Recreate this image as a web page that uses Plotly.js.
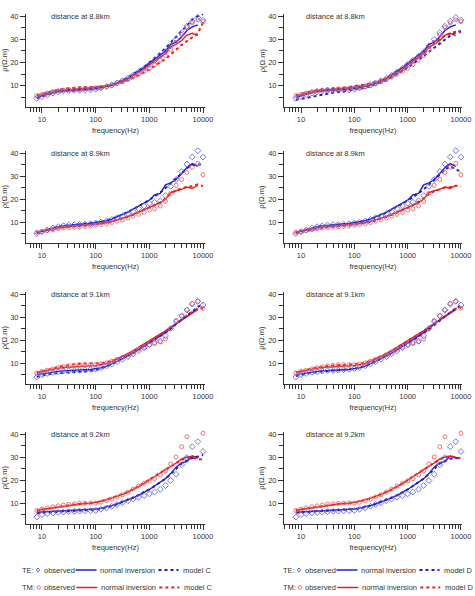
<!DOCTYPE html>
<html>
<head>
<meta charset="utf-8">
<script src="https://cdn.plot.ly/plotly-3.0.1.min.js"></script>
<style>
  html, body { margin: 0; padding: 0; background: #ffffff; }
  #chart { width: 475px; height: 596px; }
</style>
</head>
<body>
<div id="chart"></div>
<script>
// Apparent resistivity sounding curves, TE and TM modes, four distances.
const freq = [8, 10, 12.5, 16, 20, 25, 31.5, 40, 50, 63, 80, 100, 125, 160, 200, 250, 315, 400,
              500, 630, 800, 1000, 1250, 1600, 2000, 2500, 3150, 4000, 5000, 6300, 8000, 10000];
// inversion curves stop at 8 kHz
const freqInv = freq.slice(0, 31);

const distances = ['8.8', '8.9', '9.1', '9.2'];

// ---- 8.8 km ----
const teObs88 = [4.6,5.4,6.2,6.9,7.4,7.8,8.0,8.1,8.1,8.1,8.2,8.6,9.1,9.7,10.4,11.3,12.2,13.3,14.6,16.0,17.5,19.2,20.9,22.8,24.6,27.2,30.0,32.8,35.6,37.8,39.4,38.2];
const tmObs88 = [5.8,6.3,6.9,7.5,7.9,8.2,8.4,8.6,8.7,8.8,8.9,9.1,9.3,9.7,10.2,10.9,11.7,12.7,13.8,15.0,16.2,17.5,19.1,21.0,23.0,25.6,28.7,32.0,35.0,37.0,38.4,37.6];
const teInv88 = [5.0,5.7,6.5,7.1,7.6,7.9,8.0,8.1,8.2,8.3,8.5,8.8,9.2,9.7,10.4,11.2,12.2,13.4,14.8,16.3,17.9,19.7,21.5,23.3,25.0,27.8,28.8,31.0,33.8,35.3,36.2];
const tmInv88 = [5.6,6.2,6.8,7.4,7.8,8.1,8.3,8.5,8.6,8.7,8.9,9.1,9.4,9.8,10.3,11.0,11.9,13.0,14.3,15.8,17.3,19.0,20.6,22.2,24.0,26.8,27.8,29.5,31.8,32.6,31.6];
const teModC88 = [4.7,5.5,6.3,7.0,7.5,7.8,7.9,7.9,8.0,8.1,8.3,8.6,9.1,9.7,10.5,11.4,12.4,13.6,15.0,16.5,18.2,20.0,22.0,24.0,26.2,28.6,31.2,33.6,35.8,38.4,40.0,40.8];
const tmModC88 = [6.0,6.6,7.2,7.8,8.3,8.7,9.0,9.2,9.4,9.5,9.5,9.5,9.6,9.9,10.3,10.9,11.6,12.4,13.4,14.6,15.8,17.1,18.5,20.0,21.6,23.5,25.6,27.6,29.2,31.0,32.5,37.2];
const teModD88 = [4.0,4.3,4.8,5.3,5.8,6.3,6.7,7.1,7.4,7.7,8.0,8.3,8.7,9.2,9.8,10.6,11.5,12.5,13.6,14.9,16.3,17.8,19.4,21.1,22.8,24.6,26.4,28.2,30.0,31.6,33.0,33.6];
const tmModD88 = [6.0,6.6,7.2,7.7,8.1,8.4,8.6,8.8,9.0,9.2,9.5,9.8,10.2,10.6,11.1,11.7,12.4,13.2,14.2,15.4,16.8,18.4,20.1,22.0,24.0,26.4,28.2,30.0,31.6,32.6,33.2,33.0];

// ---- 8.9 km ----
const teObs89 = [5.0,5.8,6.6,7.4,8.0,8.4,8.7,8.9,9.0,9.1,9.3,9.6,10.0,10.5,11.1,11.9,12.6,13.6,14.6,15.9,17.0,18.2,18.6,19.2,21.5,25.5,28.5,32.0,35.2,38.3,41.0,38.2];
const tmObs89 = [5.6,5.9,6.3,6.7,7.1,7.4,7.6,7.8,7.9,8.1,8.3,8.6,8.9,9.3,9.8,10.4,11.0,11.8,12.6,13.4,14.2,15.2,15.8,17.0,19.0,22.5,26.0,28.5,31.5,33.8,35.5,30.6];
const teInv89 = [5.3,6.0,6.8,7.5,8.0,8.3,8.6,8.8,9.0,9.2,9.4,9.7,10.1,10.6,11.3,12.2,13.2,14.3,15.6,16.9,18.0,19.5,21.8,22.5,26.2,27.0,28.5,31.0,33.6,35.4,34.2];
const tmInv89 = [5.6,6.1,6.6,7.1,7.5,7.8,8.1,8.3,8.5,8.7,8.9,9.1,9.4,9.8,10.3,10.9,11.6,12.4,13.3,14.3,15.3,16.4,17.3,18.4,20.0,22.8,23.6,24.2,25.2,24.6,26.0];
const teModC89 = [5.1,5.9,6.7,7.4,7.9,8.3,8.6,8.8,9.0,9.2,9.4,9.7,10.1,10.7,11.4,12.3,13.3,14.4,15.6,16.9,18.2,19.6,21.2,22.8,24.8,26.8,28.8,31.2,33.4,34.8,35.0,35.0];
const tmModC89 = [5.5,6.0,6.5,7.0,7.4,7.7,8.0,8.2,8.4,8.6,8.8,9.0,9.3,9.7,10.2,10.8,11.5,12.3,13.2,14.2,15.2,16.3,17.4,18.6,20.2,22.4,23.8,24.6,25.3,25.6,26.4,25.6];
const teModD89 = [5.1,5.8,6.6,7.3,7.8,8.2,8.5,8.7,8.9,9.1,9.3,9.6,10.0,10.5,11.2,12.0,13.0,14.1,15.3,16.6,17.9,19.3,20.8,22.4,24.2,26.2,28.2,30.6,32.8,34.2,32.8,32.0];
const tmModD89 = [5.2,5.7,6.2,6.7,7.1,7.5,7.8,8.1,8.3,8.5,8.7,8.9,9.2,9.6,10.1,10.7,11.4,12.2,13.1,14.1,15.1,16.2,17.4,18.7,20.2,22.2,23.4,24.2,25.0,25.2,25.8,25.6];

// ---- 9.1 km ----
const teObs91 = [3.9,5.0,5.5,5.9,6.3,6.5,6.7,6.8,6.9,7.1,7.3,7.5,8.0,8.8,9.6,10.6,11.6,12.8,14.0,15.3,16.6,17.9,19.0,19.6,21.8,25.0,28.0,30.5,33.0,35.6,36.8,35.2];
const tmObs91 = [5.7,6.4,6.9,7.5,8.0,8.4,8.8,9.1,9.3,9.3,9.3,9.3,9.6,10.1,10.8,11.6,12.5,13.6,14.8,16.0,17.0,17.9,18.5,19.2,20.5,25.0,28.5,30.5,33.2,35.8,36.8,33.8];
const teInv91 = [5.0,5.4,5.8,6.1,6.4,6.6,6.8,6.9,7.0,7.1,7.2,7.4,7.9,8.7,9.6,10.7,11.8,13.0,14.3,15.8,17.3,18.8,20.3,21.7,23.2,25.0,27.0,28.8,30.2,31.8,33.6];
const tmInv91 = [6.0,6.5,7.0,7.4,7.8,8.1,8.3,8.5,8.6,8.7,8.8,8.9,9.3,9.9,10.7,11.7,12.9,14.1,15.4,16.8,18.2,19.6,21.0,22.4,23.8,25.4,27.2,28.8,30.4,31.6,33.2];
const teModC91 = [4.0,4.6,5.1,5.5,5.7,5.9,6.0,6.1,6.2,6.3,6.5,6.9,7.6,8.5,9.6,10.8,12.0,13.2,14.5,15.9,17.3,18.7,20.1,21.6,23.2,25.0,27.0,28.8,30.6,32.4,34.4,35.7];
const tmModC91 = [5.7,6.4,7.1,7.7,8.3,8.8,9.2,9.5,9.7,9.8,9.8,9.8,10.0,10.4,11.0,11.8,12.8,13.9,15.1,16.4,17.8,19.2,20.7,22.2,23.8,25.5,27.3,29.0,30.6,32.2,33.8,33.8];
const teModD91 = [4.4,4.9,5.4,5.8,6.1,6.4,6.6,6.8,6.9,7.0,7.2,7.5,8.0,8.8,9.7,10.8,11.9,13.1,14.4,15.8,17.2,18.6,20.0,21.5,23.0,24.8,26.8,28.6,30.4,32.0,33.8,34.8];
const tmModD91 = [5.9,6.5,7.1,7.6,8.0,8.4,8.7,8.9,9.1,9.2,9.3,9.4,9.7,10.2,10.9,11.8,12.9,14.1,15.4,16.8,18.2,19.6,21.0,22.5,24.0,25.6,27.3,29.0,30.6,32.0,33.6,34.0];

// ---- 9.2 km ----
const teObs92 = [3.9,5.0,5.4,5.7,5.9,6.1,6.3,6.4,6.5,6.6,6.7,6.8,7.3,7.9,8.6,9.4,10.2,11.0,11.8,12.5,13.2,14.0,14.8,16.0,17.6,19.8,22.5,26.6,29.8,34.5,36.7,32.4];
const tmObs92 = [6.8,7.4,7.9,8.4,8.8,9.2,9.5,9.7,9.9,10.0,10.0,10.0,10.4,11.0,11.7,12.6,13.6,14.8,16.0,17.4,18.6,19.6,20.6,22.2,24.0,27.0,30.0,34.5,38.8,41.5,44.3,40.3];
const teInv92 = [6.0,6.1,6.3,6.5,6.6,6.7,6.8,6.9,7.0,7.1,7.2,7.4,7.8,8.3,8.9,9.6,10.4,11.3,12.3,13.4,14.6,15.9,17.4,19.0,20.6,22.8,25.6,27.6,28.0,30.4,29.8];
const tmInv92 = [7.0,7.3,7.7,8.1,8.5,8.8,9.1,9.4,9.6,9.8,10.0,10.3,10.8,11.4,12.1,12.9,13.8,14.8,15.9,17.2,18.6,20.0,21.6,23.2,24.6,26.0,27.4,29.2,30.0,30.4,29.4];
const teModC92 = [5.6,5.8,6.0,6.2,6.3,6.4,6.5,6.6,6.7,6.8,6.9,7.1,7.5,8.0,8.7,9.5,10.4,11.4,12.4,13.5,14.7,16.0,17.4,19.0,20.6,22.6,25.0,27.2,28.4,29.6,30.2,30.9];
const tmModC92 = [6.6,7.0,7.5,8.0,8.4,8.8,9.1,9.4,9.6,9.8,10.0,10.3,10.8,11.5,12.2,13.0,13.9,14.9,16.0,17.3,18.7,20.1,21.6,23.2,24.6,26.0,27.4,28.8,29.6,29.8,29.0,29.0];
const teModD92 = [5.8,6.0,6.2,6.4,6.5,6.6,6.7,6.8,6.9,7.0,7.1,7.3,7.7,8.2,8.8,9.6,10.4,11.3,12.3,13.4,14.6,15.9,17.4,19.0,20.6,22.6,25.0,27.2,28.2,29.2,29.6,29.4];
const tmModD92 = [6.8,7.2,7.6,8.0,8.4,8.7,9.0,9.3,9.5,9.7,9.9,10.2,10.7,11.3,12.0,12.8,13.7,14.7,15.8,17.1,18.5,19.9,21.5,23.1,24.6,26.0,27.4,29.0,29.8,30.4,29.8,29.4];

const xTickVals = [10, 100, 1000, 10000];
const xTickText = ['10', '100', '1000', '10000'];
const yTickVals = [10, 20, 30, 40];
const yMinorVals = [5, 15, 25, 35];
const modelNames = ['model C', 'model D'];
const legendLabels = ['observed', 'normal inversion'];
const modeLabels = ['TE:', 'TM:'];

const rows = [
  {teObs: teObs88, tmObs: tmObs88, teInv: teInv88, tmInv: tmInv88, te: [teModC88, teModD88], tm: [tmModC88, tmModD88]},
  {teObs: teObs89, tmObs: tmObs89, teInv: teInv89, tmInv: tmInv89, te: [teModC89, teModD89], tm: [tmModC89, tmModD89]},
  {teObs: teObs91, tmObs: tmObs91, teInv: teInv91, tmInv: tmInv91, te: [teModC91, teModD91], tm: [tmModC91, tmModD91]},
  {teObs: teObs92, tmObs: tmObs92, teInv: teInv92, tmInv: tmInv92, te: [teModC92, teModD92], tm: [tmModC92, tmModD92]}
];

// ---- styling ----
const W = 475, H = 596;
const BLUE = '#1f1fd0', RED = '#e41e1e';
const BLUE_OBS = '#6464e8', RED_OBS = '#f06464';
const AXIS = '#333333', TXT = '#333333';
const FONT = 'Liberation Sans, Arial, Helvetica, sans-serif';
const FS = 7.5;
const px = x => x / W;
const py = y => 1 - y / H;

// panel frames in pixels
const colX = [[26, 205], [284, 462]];
const colRange = [[0.702, 4.037], [0.681, 4.019]];
const rowY = [[13.7, 106.8], [150.7, 242.8], [291.7, 383.8], [431.7, 523.8]];
const yRange = [1, 41];

// minor tick positions of the log frequency axis
const minorX = [];
[1, 10, 100, 1000].forEach(d => { for (let k = 2; k <= 9; k++) minorX.push(k * d); });

const traces = [];
const layout = {
  width: W, height: H,
  margin: {l: 0, r: 0, t: 0, b: 0},
  paper_bgcolor: '#ffffff', plot_bgcolor: '#ffffff',
  font: {family: FONT, size: FS, color: TXT},
  showlegend: false,
  annotations: [],
  shapes: []
};

const common = {showgrid: false, zeroline: false, fixedrange: true, tickcolor: AXIS, tickwidth: 1,
  tickfont: {family: FONT, size: FS, color: TXT}};

rows.forEach((row, r) => {
  [0, 1].forEach(c => {
    const k = r * 2 + c + 1;
    const xs = k === 1 ? '' : String(k);
    const ms = String(k + 8);           // companion axes carrying the minor ticks
    const xa = 'x' + xs, ya = 'y' + xs;
    const xm = 'x' + ms, ym = 'y' + ms;

    layout['xaxis' + xs] = Object.assign({}, common, {
      type: 'log', domain: [px(colX[c][0]), px(colX[c][1])], range: colRange[c],
      anchor: ya, showline: true, linecolor: AXIS, linewidth: 1,
      ticks: 'outside', ticklen: 5,
      tickmode: 'array', tickvals: xTickVals, ticktext: xTickText,
      title: {text: 'frequency(Hz)', font: {family: FONT, size: FS, color: TXT}, standoff: 4}
    });
    layout['yaxis' + xs] = Object.assign({}, common, {
      domain: [py(rowY[r][1]), py(rowY[r][0])], range: yRange,
      anchor: xa, showline: true, linecolor: AXIS, linewidth: 1,
      ticks: 'outside', ticklen: 5,
      tickmode: 'array', tickvals: yTickVals
    });
    layout['xaxis' + ms] = Object.assign({}, common, {
      type: 'log', overlaying: xa, anchor: ya, side: 'bottom', range: colRange[c],
      showline: false, ticks: 'outside', ticklen: 4, showticklabels: false,
      tickmode: 'array', tickvals: minorX
    });
    layout['yaxis' + ms] = Object.assign({}, common, {
      overlaying: ya, anchor: xa, side: 'left', range: yRange,
      showline: false, ticks: 'outside', ticklen: 4, showticklabels: false,
      tickmode: 'array', tickvals: yMinorVals
    });

    // observed data
    traces.push({x: freq, y: row.teObs, xaxis: xm, yaxis: ya, type: 'scatter', mode: 'markers', cliponaxis: false,
      marker: {symbol: 'diamond-open', size: 4.5, color: BLUE_OBS, line: {width: 0.9, color: BLUE_OBS}}});
    traces.push({x: freq, y: row.tmObs, xaxis: xa, yaxis: ym, type: 'scatter', mode: 'markers', cliponaxis: false,
      marker: {symbol: 'circle-open', size: 4, color: RED_OBS, line: {width: 0.9, color: RED_OBS}}});
    // normal inversion responses
    traces.push({x: freqInv, y: row.teInv, xaxis: xa, yaxis: ya, type: 'scatter', mode: 'lines',
      line: {color: BLUE, width: 1.4}});
    traces.push({x: freqInv, y: row.tmInv, xaxis: xa, yaxis: ya, type: 'scatter', mode: 'lines',
      line: {color: RED, width: 1.4}});
    // model responses (C on the left, D on the right)
    traces.push({x: freq, y: row.te[c], xaxis: xa, yaxis: ya, type: 'scatter', mode: 'lines',
      line: {color: BLUE, width: 2, dash: 'dot'}});
    traces.push({x: freq, y: row.tm[c], xaxis: xa, yaxis: ya, type: 'scatter', mode: 'lines',
      line: {color: RED, width: 2, dash: 'dot'}});

    layout.annotations.push({
      xref: xa + ' domain', yref: ya, x: c === 0 ? 0.128 : 0.112, y: 40,
      xanchor: 'left', yanchor: 'middle', showarrow: false,
      text: 'distance at ' + distances[r] + 'km', font: {family: FONT, size: FS, color: TXT}
    });
    layout.annotations.push({
      xref: 'paper', yref: ya + ' domain', x: px(c === 0 ? 4.5 : 262), y: 0.5,
      xanchor: 'center', yanchor: 'middle', showarrow: false, textangle: -90,
      text: 'ρ(Ω.m)', font: {family: FONT, size: FS, color: TXT}
    });
  });
});

// ---- key below each column ----
const keyX0 = [20.5, 281.5];
const keyY = [570, 587.5];
const modeColor = [[BLUE, BLUE_OBS], [RED, RED_OBS]];

[0, 1].forEach(c => {
  [0, 1].forEach(m => {
    const x0 = keyX0[c] + (m === 1 ? 0.8 : 0);
    const y = keyY[m];
    const col = modeColor[m][0], obsCol = modeColor[m][1];
    const text = (t, x) => layout.annotations.push({
      xref: 'paper', yref: 'paper', x: px(x), y: py(y), xanchor: 'left', yanchor: 'middle',
      showarrow: false, text: t, font: {family: FONT, size: FS, color: TXT}
    });
    text(modeLabels[m], x0 - 1);
    // marker sample
    const mx = x0 + 17.5, r = 1.7;
    if (m === 0) {
      layout.shapes.push({type: 'path', xref: 'paper', yref: 'paper',
        path: `M${px(mx)},${py(y - r - 0.4)} L${px(mx + r)},${py(y)} L${px(mx)},${py(y + r + 0.4)} L${px(mx - r)},${py(y)} Z`,
        line: {color: obsCol, width: 1}});
    } else {
      layout.shapes.push({type: 'circle', xref: 'paper', yref: 'paper',
        x0: px(mx - r), x1: px(mx + r), y0: py(y + r), y1: py(y - r),
        line: {color: obsCol, width: 1}});
    }
    text(legendLabels[0], x0 + 21);
    layout.shapes.push({type: 'line', xref: 'paper', yref: 'paper',
      x0: px(x0 + 55), x1: px(x0 + 76), y0: py(y), y1: py(y), line: {color: col, width: 1.5}});
    text(legendLabels[1], x0 + 77.5);
    layout.shapes.push({type: 'line', xref: 'paper', yref: 'paper',
      x0: px(x0 + 138), x1: px(x0 + 158), y0: py(y), y1: py(y), line: {color: col, width: 2, dash: 'dot'}});
    text(modelNames[c], x0 + 160.5);
  });
});

Plotly.newPlot('chart', traces, layout, {displayModeBar: false, staticPlot: true});
</script>
</body>
</html>
